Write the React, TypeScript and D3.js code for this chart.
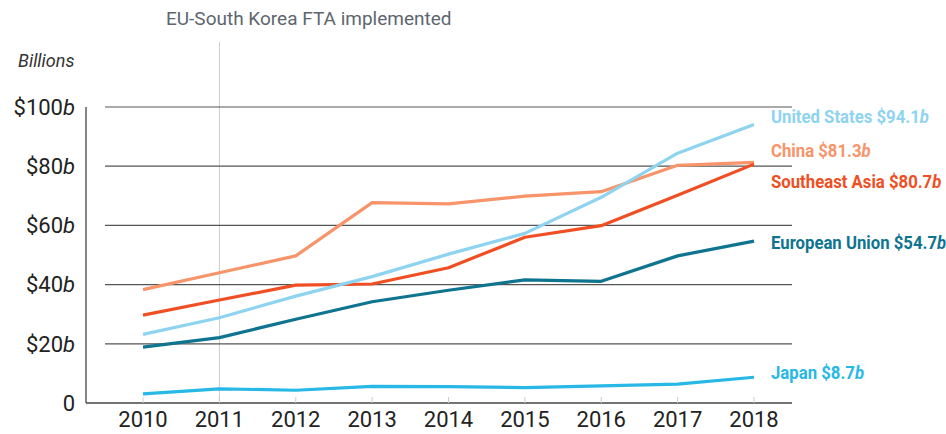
import React from "react";
import * as d3 from "d3";

const years = [2010, 2011, 2012, 2013, 2014, 2015, 2016, 2017, 2018];
const unitedStates = [23.2, 28.8, 36.1, 42.7, 50.3, 57.3, 69.5, 84.4, 94.1];
const china = [38.3, 44.0, 49.7, 67.7, 67.3, 69.9, 71.4, 80.3, 81.3];
const southeastAsia = [29.7, 34.8, 39.8, 40.2, 45.7, 56.0, 59.9, 70.2, 80.7];
const europeanUnion = [18.9, 22.1, 28.3, 34.2, 38.1, 41.6, 41.1, 49.7, 54.7];
const japan = [3.1, 4.8, 4.3, 5.6, 5.5, 5.2, 5.8, 6.4, 8.7];
const yTicks = [0, 20, 40, 60, 80, 100];
const annotationYear = 2011;
const annotationText = "EU-South Korea FTA implemented";

const series = [
  { name: "China", values: china, color: "#f7946a", labelY: 151 },
  { name: "Southeast Asia", values: southeastAsia, color: "#f04e23", labelY: 182 },
  { name: "European Union", values: europeanUnion, color: "#0e7490", labelY: 243 },
  { name: "United States", values: unitedStates, color: "#8ed3f0", labelY: 117 },
  { name: "Japan", values: japan, color: "#27b8e6", labelY: 373 },
];

export default function App() {
  const W = 946, H = 434;
  const x = d3.scalePoint<number>().domain(years).range([143, 754]);
  const y = d3.scaleLinear().domain([0, 100]).range([403, 107]);
  const line = d3
    .line<number>()
    .x((_, i) => x(years[i]) as number)
    .y((d) => y(d));
  const font = "Roboto, 'Noto Sans', sans-serif";
  return (
    <svg
      width={W}
      height={H}
      style={{ position: "absolute", left: 0, top: 0, background: "#fff" }}
      fontFamily={font}
    >
      {/* annotation */}
      <text x={166} y={25} fontSize={19} fill="#5d666e">
        {annotationText}
      </text>
      <line
        x1={x(annotationYear)}
        x2={x(annotationYear)}
        y1={42}
        y2={403}
        stroke="#cccccc"
        strokeWidth={1}
      />
      <text x={18} y={67} fontSize={18} fontStyle="italic" fill="#333">
        Billions
      </text>
      {/* gridlines */}
      {yTicks.filter((t) => t > 0).map((t) => (
        <line key={t} x1={105} x2={792} y1={y(t)} y2={y(t)} stroke="#555" strokeWidth={1.2} />
      ))}
      {/* axes */}
      <line x1={86} x2={86} y1={107} y2={403} stroke="#444" strokeWidth={1.3} />
      <line x1={86} x2={792} y1={403} y2={403} stroke="#444" strokeWidth={1.3} />
      {yTicks.map((t) => (
        <text key={t} x={75} y={y(t)} dy="0.35em" textAnchor="end" fontSize={22} fill="#222">
          {t === 0 ? "0" : (
            <>
              {"$" + t}
              <tspan fontStyle="italic">b</tspan>
            </>
          )}
        </text>
      ))}
      {/* x ticks */}
      {years.map((yr) => (
        <g key={yr}>
          <line x1={x(yr)} x2={x(yr)} y1={397} y2={403} stroke="#ccc" strokeWidth={1} />
          <text x={x(yr)} y={427} textAnchor="middle" fontSize={22} fill="#222">
            {yr}
          </text>
        </g>
      ))}
      {/* lines */}
      {series.map((s) => (
        <path
          key={s.name}
          d={line(s.values) || ""}
          fill="none"
          stroke={s.color}
          strokeWidth={3.2}
          strokeLinejoin="round"
        />
      ))}
      {/* labels */}
      {series.map((s) => {
        const last = s.values[s.values.length - 1];
        return (
          <text
            key={s.name}
            x={771}
            y={s.labelY}
            dy="0.35em"
            fontSize={18}
            fontWeight={700}
            fill={s.color}
            transform={`translate(771,0) scale(0.93,1) translate(-771,0)`}
          >
            {s.name + " $" + last.toFixed(1)}
            <tspan fontStyle="italic">b</tspan>
          </text>
        );
      })}
    </svg>
  );
}
